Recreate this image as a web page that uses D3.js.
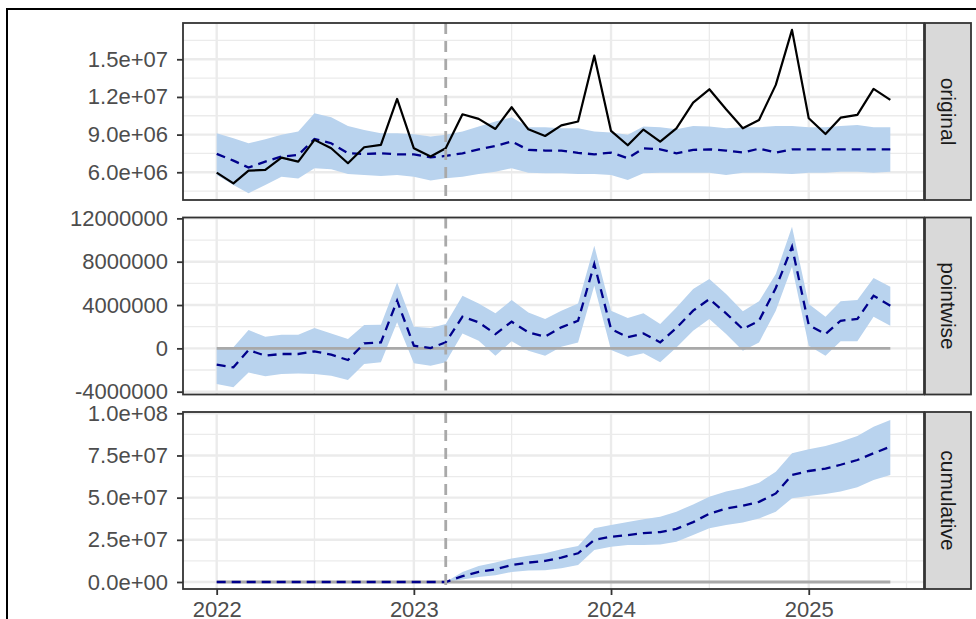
<!DOCTYPE html>
<html><head><meta charset="utf-8">
<script src="https://cdn.jsdelivr.net/npm/d3@7"></script>
<style>
body{margin:0;background:#fff}
svg{display:block}
text{font-family:"Liberation Sans",Arial,Helvetica,sans-serif}
</style>
</head><body>
<svg id="c" width="976" height="619"></svg>
<script>
// ---------------- data (values in millions) ----------------
const months = ["2022-01","2022-02","2022-03","2022-04","2022-05","2022-06","2022-07","2022-08","2022-09","2022-10","2022-11","2022-12",
"2023-01","2023-02","2023-03","2023-04","2023-05","2023-06","2023-07","2023-08","2023-09","2023-10","2023-11","2023-12",
"2024-01","2024-02","2024-03","2024-04","2024-05","2024-06","2024-07","2024-08","2024-09","2024-10","2024-11","2024-12",
"2025-01","2025-02","2025-03","2025-04","2025-05","2025-06"];
const interventionMonth = "2023-03";

const original = [5.97,5.12,6.13,6.19,7.17,6.85,8.58,7.91,6.72,7.99,8.18,11.84,
7.91,7.25,7.91,10.62,10.25,9.45,11.18,9.42,8.89,9.74,10.04,15.29,
9.29,8.15,9.40,8.44,9.50,11.55,12.61,11.02,9.50,10.17,12.96,17.34,
10.30,9.05,10.35,10.57,12.64,11.76];
const predicted = [7.46,6.93,6.37,6.85,7.25,7.38,8.65,8.31,7.51,7.46,7.51,7.43,
7.43,7.19,7.30,7.51,7.83,8.10,8.45,7.78,7.73,7.73,7.54,7.43,
7.57,7.12,7.91,7.83,7.51,7.78,7.83,7.73,7.57,7.88,7.57,7.83,
7.83,7.83,7.83,7.83,7.83,7.83];
const predUpper = [9.11,8.71,8.31,8.63,8.98,9.24,10.70,10.38,9.69,9.37,9.11,9.11,
9.03,8.84,8.98,9.24,9.64,10.04,10.38,9.58,9.58,9.50,9.50,9.24,
9.16,8.98,9.64,9.58,9.42,9.69,9.64,9.50,9.58,9.58,9.69,9.69,
9.58,9.58,9.69,9.77,9.58,9.58];
const predLower = [5.79,4.99,4.33,4.99,5.65,5.50,6.32,6.24,5.87,5.79,5.71,5.79,
5.65,5.34,5.52,5.65,5.87,6.05,6.32,5.97,5.92,5.92,5.87,5.87,
5.79,5.39,5.92,5.97,5.97,5.97,5.97,5.79,5.97,5.97,5.92,5.87,
5.97,5.97,6.05,6.05,5.97,6.05];

const pointwise = [-1.51,-1.75,-0.15,-0.68,-0.52,-0.52,-0.28,-0.58,-1.08,0.46,0.55,4.40,
0.25,0.03,0.55,2.92,2.40,1.32,2.46,1.48,1.08,1.94,2.55,7.78,
1.78,1.02,1.38,0.55,1.88,3.48,4.55,3.23,1.78,2.55,5.57,9.38,
2.15,1.32,2.55,2.71,4.86,3.94];
const pointUpper = [0.09,0.10,1.69,1.08,1.26,1.26,1.88,1.38,0.86,2.15,2.18,6.09,
2.00,1.88,2.25,4.86,4.15,3.23,4.46,3.32,2.71,3.48,4.15,9.48,
3.48,2.80,3.23,2.25,3.78,5.48,6.40,5.02,3.42,4.34,6.86,11.23,
4.09,2.92,4.34,4.46,6.49,5.69];
const pointLower = [-3.29,-3.60,-2.22,-2.58,-2.37,-2.31,-2.37,-2.52,-2.92,-1.45,-1.29,2.40,
-1.38,-1.60,-1.29,1.38,0.71,-0.68,0.65,-0.22,-0.68,0.15,0.55,5.78,
-0.15,-0.77,-0.46,-1.29,0.09,1.63,2.71,1.32,-0.22,0.55,3.48,7.54,
0.25,-0.68,0.65,0.65,2.92,2.09];

const cumulative = [0,0,0,0,0,0,0,0,0,0,0,0,0,0,0,
3.5,6.0,7.5,10.0,11.5,12.5,14.5,17.0,25.0,
26.8,27.8,29.0,29.6,31.5,35.5,40.5,43.5,45.2,47.5,52.5,63.5,
65.8,67.2,69.5,72.3,76.3,80.2];
const cumUpper = [0,0,0,0,0,0,0,0,0,0,0,0,0,0,0,
6.0,9.5,11.5,14.0,15.5,17.0,19.4,21.3,31.8,
33.8,35.6,37.2,38.7,41.7,46.0,50.6,53.6,55.7,58.9,65.4,76.3,
78.7,80.6,83.2,86.6,92.1,96.0];
const cumLower = [0,0,0,0,0,0,0,0,0,0,0,0,0,0,0,
1.5,3.0,4.0,6.0,6.8,7.0,8.1,10.1,19.0,
20.9,21.9,21.9,22.2,23.9,27.9,31.8,33.8,35.2,37.7,41.7,49.6,
51.0,52.2,53.6,56.1,60.5,63.4];

const panelNames = ["original","pointwise","cumulative"];
const yTicks1 = [6,9,12,15];
const yTickLabels1 = ["6.0e+06","9.0e+06","1.2e+07","1.5e+07"];
const yTicks2 = [-4,0,4,8,12];
const yTickLabels2 = ["-4000000","0","4000000","8000000","12000000"];
const yTicks3 = [0,25,50,75,100];
const yTickLabels3 = ["0.0e+00","2.5e+07","5.0e+07","7.5e+07","1.0e+08"];
const xTickYears = ["2022","2023","2024","2025"];
const yDomain1 = [3.79,17.89], yDomain2 = [-4.26,12.08], yDomain3 = [-4.15,100.77];

// ---------------- layout ----------------
const L = 183, R = 924, stripW = 46;
const panelTop = [23, 217.5, 412], panelH = 177;
const fs = 22;

const svg = d3.select("#c");
const parse = d3.utcParse("%Y-%m");
const dates = months.map(parse);
const t0 = +dates[0], t1 = +dates[dates.length-1], span = t1 - t0;
const x = d3.scaleUtc().domain([new Date(t0 - 0.05*span), new Date(t1 + 0.05*span)]).range([L, R]);
const vDate = parse(interventionMonth);

const panels = [
  {mean: predicted, lo: predLower, hi: predUpper, resp: original, base: false, dom: yDomain1, ticks: yTicks1, labels: yTickLabels1},
  {mean: pointwise, lo: pointLower, hi: pointUpper, resp: null, base: true, dom: yDomain2, ticks: yTicks2, labels: yTickLabels2},
  {mean: cumulative, lo: cumLower, hi: cumUpper, resp: null, base: true, dom: yDomain3, ticks: yTicks3, labels: yTickLabels3}
];

// outer frame of the screenshot
svg.append("rect").attr("x",7).attr("y",9).attr("width",1000).attr("height",700)
  .attr("fill","none").attr("stroke","#000").attr("stroke-width",2);

const majorX = xTickYears.map(s => d3.utcParse("%Y")(s));
const minorX = [];
for (let yr = 2021; yr <= 2026; yr++) {
  const d = new Date(Date.UTC(yr, 6, 1));
  if (x(d) > L && x(d) < R) minorX.push(d);
}

const defs = svg.append("defs");

panels.forEach((p, i) => {
  const top = panelTop[i], bottom = top + panelH;
  const y = d3.scaleLinear().domain(p.dom).range([bottom, top]);
  const g = svg.append("g");
  defs.append("clipPath").attr("id","clip"+i).append("rect")
    .attr("x",L).attr("y",top).attr("width",R-L).attr("height",panelH);

  g.append("rect").attr("x",L).attr("y",top).attr("width",R-L).attr("height",panelH).attr("fill","#fff");

  // minor grid
  const step = p.ticks[1]-p.ticks[0];
  const minorY = [];
  for (let v = p.ticks[0] - step/2 - 5*step; v <= p.dom[1]; v += step) if (v >= p.dom[0]) minorY.push(v);
  g.selectAll(".mny").data(minorY).join("line")
    .attr("x1",L).attr("x2",R).attr("y1",d=>y(d)).attr("y2",d=>y(d))
    .attr("stroke","#EBEBEB").attr("stroke-width",1.3);
  g.selectAll(".mnx").data(minorX).join("line")
    .attr("x1",d=>x(d)).attr("x2",d=>x(d)).attr("y1",top).attr("y2",bottom)
    .attr("stroke","#EBEBEB").attr("stroke-width",1.3);
  // major grid
  g.selectAll(".mjy").data(p.ticks.filter(v=>v>=p.dom[0]&&v<=p.dom[1])).join("line")
    .attr("x1",L).attr("x2",R).attr("y1",d=>y(d)).attr("y2",d=>y(d))
    .attr("stroke","#EBEBEB").attr("stroke-width",2.4);
  g.selectAll(".mjx").data(majorX).join("line")
    .attr("x1",d=>x(d)).attr("x2",d=>x(d)).attr("y1",top).attr("y2",bottom)
    .attr("stroke","#EBEBEB").attr("stroke-width",2.4);

  const c = g.append("g").attr("clip-path","url(#clip"+i+")");
  const idx = d3.range(dates.length);
  const area = d3.area().x(j=>x(dates[j])).y0(j=>y(p.lo[j])).y1(j=>y(p.hi[j]));
  c.append("path").attr("d", area(idx)).attr("fill","#B9D3EE");

  if (p.base) {
    c.append("line").attr("x1",x(dates[0])).attr("x2",x(dates[dates.length-1]))
      .attr("y1",y(0)).attr("y2",y(0)).attr("stroke","#A9A9A9").attr("stroke-width",2.8);
  }
  const line = (arr) => d3.line().x(j=>x(dates[j])).y(j=>y(arr[j]))(idx);
  c.append("path").attr("d", line(p.mean)).attr("fill","none")
    .attr("stroke","#00008B").attr("stroke-width",2.3).attr("stroke-dasharray","9,6");
  if (p.resp) {
    c.append("path").attr("d", line(p.resp)).attr("fill","none")
      .attr("stroke","#000").attr("stroke-width",2.2).attr("stroke-linejoin","round");
  }
  c.append("line").attr("x1",x(vDate)).attr("x2",x(vDate)).attr("y1",top).attr("y2",bottom)
    .attr("stroke","#A9A9A9").attr("stroke-width",2.8).attr("stroke-dasharray","11,7");

  g.append("rect").attr("x",L).attr("y",top).attr("width",R-L).attr("height",panelH)
    .attr("fill","none").attr("stroke","#333333").attr("stroke-width",1.8);

  // y axis
  const ax = g.append("g").attr("transform",`translate(${L},0)`)
    .call(d3.axisLeft(y).tickValues(p.ticks).tickFormat((d,k)=>p.labels[k]).tickSize(6).tickPadding(9));
  ax.select(".domain").remove();
  ax.selectAll(".tick line").attr("stroke","#333333").attr("stroke-width",1.8);
  ax.selectAll(".tick text").attr("fill","#4D4D4D").style("font-size",fs+"px");

  // strip
  g.append("rect").attr("x",R+1).attr("y",top).attr("width",stripW).attr("height",panelH)
    .attr("fill","#D9D9D9").attr("stroke","#333333").attr("stroke-width",1.8);
  g.append("text").attr("transform",`translate(${R+1+stripW/2},${top+panelH/2}) rotate(90)`)
    .attr("text-anchor","middle").attr("dy","0.35em").attr("fill","#1A1A1A")
    .style("font-size",(fs-1)+"px").text(panelNames[i]);

  if (i === 2) {
    const xa = g.append("g").attr("transform",`translate(0,${bottom})`)
      .call(d3.axisBottom(x).tickValues(majorX).tickFormat((d,k)=>xTickYears[k]).tickSize(6).tickPadding(6));
    xa.select(".domain").remove();
    xa.selectAll(".tick line").attr("stroke","#333333").attr("stroke-width",1.8);
    xa.selectAll(".tick text").attr("fill","#4D4D4D").style("font-size",fs+"px");
  }
});
</script>
</body></html>
